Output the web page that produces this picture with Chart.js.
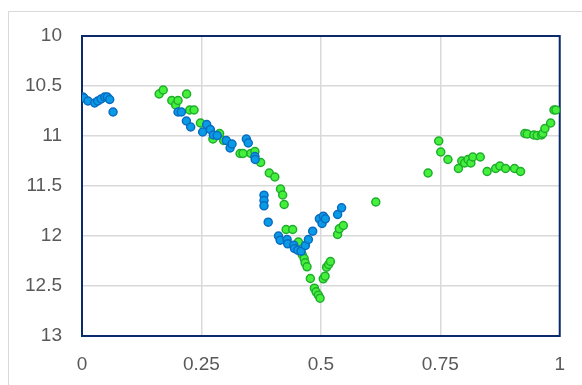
<!DOCTYPE html>
<html>
<head>
<meta charset="utf-8">
<script src="https://cdn.jsdelivr.net/npm/chart.js@4"></script>
<style>
  html, body { margin: 0; padding: 0; background: #fff; overflow: hidden; }
  #frame { position: absolute; left: 8px; top: 11px; width: 620px; height: 420px; border: 1px solid #d9d9d9; }
  #wrap { position: absolute; left: 0; top: 0; width: 582px; height: 385px; }
</style>
</head>
<body>
<div id="frame"></div>
<div id="wrap"><canvas id="myChart" width="582" height="385"></canvas></div>
<script>
let xTicks = [0, 0.25, 0.5, 0.75, 1];
let yTicks = [10, 10.5, 11, 11.5, 12, 12.5, 13];

let blueX = [0.002, 0.004, 0.0125, 0.0265, 0.033, 0.040, 0.0475, 0.053, 0.058, 0.065,
  0.201, 0.208, 0.2185, 0.2275, 0.2526, 0.261, 0.2687, 0.275, 0.283, 0.302, 0.310, 0.314,
  0.344, 0.348, 0.362, 0.3625, 0.381, 0.381, 0.381, 0.3898,
  0.4113, 0.4148, 0.4294, 0.4306, 0.4432, 0.4447, 0.4516, 0.4587, 0.4676, 0.4739, 0.4829,
  0.4969, 0.5025, 0.5052, 0.5094, 0.5351, 0.5434];
let blueY = [10.61, 10.62, 10.65, 10.67, 10.65, 10.63, 10.61, 10.61, 10.635, 10.76,
  10.76, 10.76, 10.85, 10.91, 10.96, 10.885, 10.935, 10.99, 10.995, 11.045, 11.12, 11.08,
  11.03, 11.07, 11.205, 11.235, 11.592, 11.645, 11.698, 11.862,
  12.0, 12.042, 12.035, 12.078, 12.092, 12.125, 12.142, 12.152, 12.095, 12.035, 11.952,
  11.828, 11.875, 11.802, 11.828, 11.785, 11.718];

let greenX = [0.1615, 0.170, 0.188, 0.196, 0.201, 0.219, 0.2255, 0.2345, 0.248, 0.274, 0.288,
  0.2965, 0.331, 0.337, 0.3535, 0.362, 0.374, 0.392, 0.4036, 0.4155, 0.420, 0.4232,
  0.4273, 0.441, 0.453, 0.4608, 0.465, 0.467, 0.471, 0.478, 0.4864, 0.490, 0.4948, 0.4983,
  0.505, 0.5088, 0.512, 0.5163, 0.520, 0.535, 0.5386, 0.547, 0.615,
  0.7244, 0.7467, 0.751, 0.766, 0.788, 0.795, 0.801, 0.808, 0.814, 0.818, 0.8337, 0.848,
  0.866, 0.8747, 0.8866, 0.9054, 0.918, 0.927, 0.932, 0.9457, 0.9527, 0.962, 0.9645,
  0.969, 0.981, 0.988, 0.992];
let greenY = [10.58, 10.54, 10.645, 10.69, 10.645, 10.58, 10.74, 10.74, 10.87, 11.03, 10.975,
  11.045, 11.175, 11.175, 11.175, 11.155, 11.265, 11.37, 11.41, 11.53, 11.59, 11.685,
  11.935, 11.935, 12.06, 12.185, 12.225, 12.268, 12.308, 12.425, 12.522, 12.558, 12.592, 12.622,
  12.428, 12.402, 12.312, 12.285, 12.255, 11.985, 11.928, 11.895, 11.66,
  11.37, 11.05, 11.16, 11.235, 11.325, 11.25, 11.27, 11.235, 11.27, 11.21, 11.21, 11.355,
  11.325, 11.30, 11.325, 11.325, 11.355, 10.975, 10.98, 10.99, 10.995, 10.99, 10.975,
  10.925, 10.87, 10.74, 10.74];

let toPoints = (xs, ys) => xs.map((x, i) => ({ x: x, y: ys[i] }));

let plotBorder = {
  id: "plotBorder",
  beforeDatasetsDraw(chart) {
    let a = chart.chartArea;
    let c = chart.ctx;
    c.save();
    c.strokeStyle = "#0b2a6b";
    c.lineWidth = 2;
    c.strokeRect(a.left, a.top, a.right - a.left, a.bottom - a.top);
    c.restore();
  },
};

let tickFont = { family: "'Liberation Sans', Arial, sans-serif", size: 19 };

let ctx = document.getElementById("myChart").getContext("2d");
let myChart = new Chart(ctx, {
  type: "scatter",
  data: {
    datasets: [
      {
        label: "blue",
        data: toPoints(blueX, blueY),
        pointRadius: 4,
        pointBorderWidth: 1.5,
        pointBackgroundColor: "#0a9be6",
        pointBorderColor: "#0a6cc0",
      },
      {
        label: "green",
        data: toPoints(greenX, greenY),
        pointRadius: 4,
        pointBorderWidth: 1.5,
        pointBackgroundColor: "#44f03c",
        pointBorderColor: "#1fae2c",
      },
    ],
  },
  options: {
    responsive: false,
    animation: false,
    layout: { padding: { left: 0, top: 36, right: 21, bottom: 0 } },
    plugins: {
      legend: { display: false },
      tooltip: { enabled: false },
    },
    scales: {
      x: {
        type: "linear",
        min: 0,
        max: 1,
        afterBuildTicks: (s) => { s.ticks = xTicks.map((v) => ({ value: v })); },
        afterFit: (s) => { s.height = 49; },
        grid: { color: "#d9d9d9", lineWidth: 1.5, drawTicks: false },
        border: { display: false },
        ticks: { padding: 17, color: "#595959", font: tickFont, callback: (v) => String(v) },
      },
      y: {
        type: "linear",
        min: 10,
        max: 13,
        reverse: true,
        afterBuildTicks: (s) => { s.ticks = yTicks.map((v) => ({ value: v })); },
        afterFit: (s) => { s.width = 82; },
        grid: { color: "#d9d9d9", lineWidth: 1.5, drawTicks: false },
        border: { display: false },
        ticks: { padding: 20, color: "#595959", font: tickFont, callback: (v) => String(v) },
      },
    },
  },
  plugins: [plotBorder],
});
</script>
</body>
</html>
